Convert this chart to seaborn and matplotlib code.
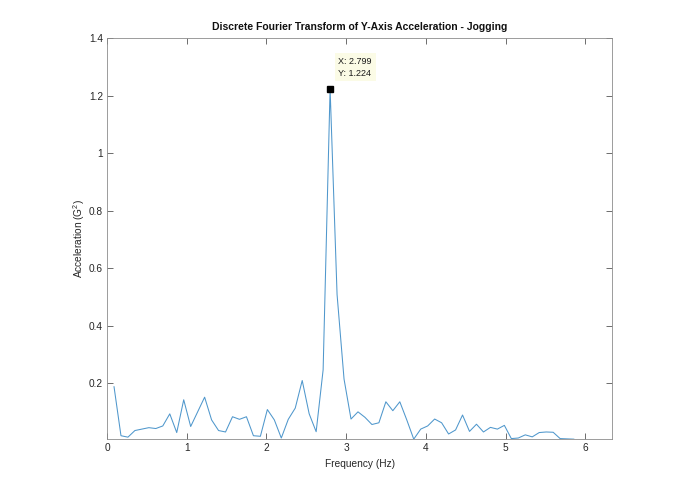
import numpy as np
import pandas as pd
import seaborn as sns
import matplotlib.pyplot as plt
from matplotlib.ticker import FuncFormatter

# -----------------------------
# Data
# -----------------------------
df_hz = 2.799 / 32  # frequency bin width
bins = list(range(1, 68))
accel = [0.188, 0.017, 0.012, 0.035, 0.040, 0.045, 0.042, 0.051, 0.093, 0.028,
         0.142, 0.049, 0.100, 0.151, 0.072, 0.035, 0.030, 0.083, 0.074, 0.083,
         0.017, 0.015, 0.108, 0.072, 0.009, 0.074, 0.113, 0.209, 0.093, 0.031,
         0.246, 1.224, 0.508, 0.214, 0.075, 0.100, 0.081, 0.056, 0.062, 0.135,
         0.104, 0.135, 0.072, 0.005, 0.040, 0.051, 0.075, 0.062, 0.023, 0.037,
         0.089, 0.032, 0.057, 0.030, 0.046, 0.040, 0.053, 0.007, 0.009, 0.020,
         0.013, 0.028, 0.030, 0.029, 0.007, 0.006, 0.005]
freq = [k * df_hz for k in bins]
x_ticks = [0, 1, 2, 3, 4, 5, 6]
y_ticks = [0.2, 0.4, 0.6, 0.8, 1.0, 1.2, 1.4]

df = pd.DataFrame({"Frequency": freq, "Acceleration": accel})

# -----------------------------
# Plot
# -----------------------------
sns.set_style("ticks")
plt.rcParams['font.family'] = ['Liberation Sans', 'DejaVu Sans']
plt.rcParams['mathtext.fontset'] = 'custom'
plt.rcParams['mathtext.rm'] = 'Liberation Sans'

fig = plt.figure(figsize=(6.95, 4.94), dpi=100)
ax = fig.add_axes([0.154, 0.111, 0.727, 0.812])

sns.lineplot(data=df, x="Frequency", y="Acceleration", ax=ax,
             color="#4f97cc", linewidth=0.75)

# data tip at the peak
i_max = int(np.argmax(accel))
px, py = freq[i_max], accel[i_max]
ax.plot(px, py, marker="s", color="black", markersize=5, linestyle="none")
ax.annotate(f"X: {px:.3f}\nY: {py:.3f}", xy=(px, py), xytext=(6, 8),
            textcoords="offset points", fontsize=6.5, va="bottom", ha="left",
            linespacing=1.35, color="#1a1a1a",
            bbox=dict(boxstyle="square,pad=0.4", fc="#fbfbe6", ec="none"))

ax.set_xlim(0, 6.34)
ax.set_ylim(0.005, 1.4)
ax.set_xticks(x_ticks)
ax.set_yticks(y_ticks)
ax.yaxis.set_major_formatter(FuncFormatter(lambda v, p: f"{v:g}"))

ax.set_title("Discrete Fourier Transform of Y-Axis Acceleration - Jogging",
             fontsize=7.5, fontweight="bold", pad=6, color="#111111")
ax.set_xlabel("Frequency (Hz)", fontsize=7.3, labelpad=4, color="#262626")
ax.set_ylabel("Acceleration (G$^2$)", fontsize=7.3, labelpad=1, color="#262626")

for s in ax.spines.values():
    s.set_visible(True)
    s.set_color("#8c8c8c")
    s.set_linewidth(0.6)
ax.tick_params(direction="in", top=True, right=True, length=4, width=0.6,
               labelsize=7.3, color="#555555", labelcolor="#262626", pad=3)

fig.savefig("out.png", dpi=100)
